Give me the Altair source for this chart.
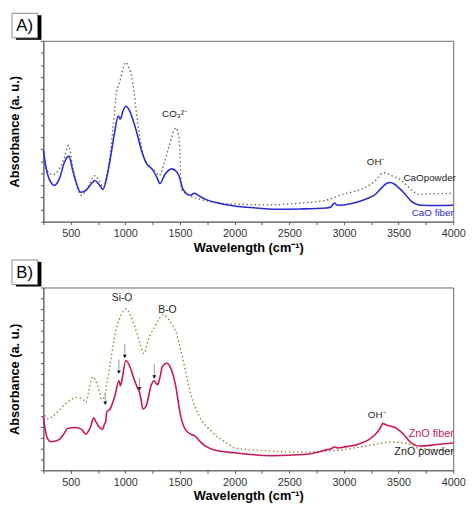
import altair as alt
import pandas as pd

FONT = "Liberation Sans"

# ---------------- Panel A data (CaO) ----------------
cao_fiber_wn = [250, 270, 292, 320, 349, 400, 440, 484, 517, 550, 591, 640, 690, 720, 760, 795, 830, 860, 900, 935, 955, 975, 1004, 1040, 1070, 1100, 1150, 1190, 1250, 1290, 1316, 1360, 1424, 1470, 1490, 1528, 1594, 1633, 1680, 1730, 1848, 1998, 2200, 2361, 2600, 2839, 2880, 2914, 2935, 2960, 3050, 3139, 3220, 3289, 3348, 3390, 3423, 3460, 3498, 3560, 3618, 3660, 3707, 3850, 4000]
cao_fiber_a = [73, 58, 47, 40, 37, 45, 60, 67, 53, 40, 30, 32, 39, 42, 38, 33, 45, 63, 90, 108, 105, 112, 118, 113, 104, 93, 72, 60, 53, 45, 39, 48, 54, 51, 47, 33, 27, 29, 26, 23, 19, 16, 14, 12.7, 13, 14, 15, 19, 17, 16.7, 18, 20.7, 24, 28, 35, 39, 40, 38.5, 35, 28, 20.7, 18, 16.7, 16.5, 16.7]

cao_powder_wn = [250, 277, 340, 400, 440, 480, 520, 560, 600, 660, 720, 760, 800, 830, 860, 890, 920, 950, 975, 1004, 1030, 1055, 1080, 1100, 1130, 1160, 1220, 1270, 1310, 1350, 1400, 1440, 1460, 1490, 1505, 1513, 1580, 1680, 1800, 1975, 2300, 2600, 2839, 2989, 3100, 3198, 3288, 3363, 3400, 3438, 3528, 3633, 3680, 3800, 4000]
cao_powder_a = [63, 53, 48, 55, 65, 78, 55, 35, 27, 36, 47, 42, 35, 48, 67, 100, 133, 143, 155, 163, 158, 150, 132, 113, 88, 70, 57, 52, 47, 58, 77, 92, 96, 87, 55, 33, 27, 23, 20, 18, 17.3, 19, 22, 28, 31, 35, 42, 50, 49, 47, 42, 31, 28, 28.5, 29]

# ---------------- Panel B data (ZnO) ----------------
zno_fiber_wn = [250, 270, 292, 322, 360, 400, 440, 470, 546, 600, 640, 660, 680, 710, 730, 756, 790, 810, 820, 830, 860, 905, 941, 955, 975, 1004, 1040, 1070, 1110, 1130, 1145, 1160, 1190, 1235, 1260, 1295, 1315, 1340, 1378, 1415, 1460, 1504, 1535, 1564, 1600, 1640, 1680, 1730, 1848, 1998, 2330, 2500, 2690, 2840, 2880, 2914, 2950, 2990, 3139, 3220, 3288, 3330, 3355, 3400, 3468, 3528, 3618, 3692, 3850, 4000]
zno_fiber_a = [55, 40, 31.7, 29.3, 30, 32, 38, 43, 44, 42, 37, 40, 44, 54, 50, 45, 42, 48, 50, 60, 63, 77, 92, 87, 97, 113, 107, 97, 85, 80, 72, 63, 66, 87, 92, 88, 95, 107, 110, 105, 87, 57, 45, 40, 37, 35, 30, 25, 20, 18, 15, 15.5, 17, 21, 22, 24, 23, 23.7, 27, 31, 37, 43, 48, 46, 44, 39, 28, 25, 26.5, 28]

zno_powder_wn = [250, 292, 330, 380, 470, 560, 620, 640, 666, 705, 730, 756, 786, 810, 830, 860, 890, 920, 950, 1010, 1040, 1070, 1100, 1130, 1170, 1205, 1265, 1300, 1340, 1385, 1420, 1460, 1500, 1535, 1595, 1670, 1790, 1940, 1998, 2300, 2600, 2900, 3198, 3350, 3423, 3560, 3680, 4000]
zno_powder_a = [60, 53, 55, 60, 70, 75, 72, 70, 82, 96, 92, 83, 73, 76, 88, 108, 130, 147, 157, 166, 161, 153, 143, 132, 120, 133, 147, 154, 160, 157, 151, 143, 127, 110, 80, 57, 40, 27, 23, 20, 18.7, 20, 25, 28, 29, 28, 23, 20]

# arrows in panel B
arrow_wn = [816, 941, 995, 1130, 1265]
arrow_top = [80, 114, 130, 95, 109]
arrow_bot = [69, 101, 117, 84, 96]

# annotations: text, wavenumber, absorbance, align, color, size
ann_a = [
    ("CO\u2083\u00b2\u207b", 1450, 110, "center", "#222222", 10),
    ("OH\u207b", 3290, 61, "center", "#222222", 10),
    ("CaOpowder", 3545, 45, "left", "#222222", 10),
    ("CaO fiber", 4005, 9, "right", "#2b2bd6", 10),
]
ann_b = [
    ("Si-O", 970, 177, "center", "#222222", 10.5),
    ("B-O", 1385, 165, "center", "#222222", 10.5),
    ("OH\u207b", 3300, 57, "center", "#222222", 10),
    ("ZnO fiber", 4005, 37, "right", "#c8175d", 11),
    ("ZnO powder", 4005, 19, "right", "#222222", 11),
]

x_ticks = list(range(250, 4001, 250))


def panel(label, fwn, fa, pwn, pa, fcolor, pcolor, ann, ymax, nint, h, arrows=False):
    fdf = pd.DataFrame({"wn": fwn, "a": fa})
    pdf = pd.DataFrame({"wn": pwn, "a": pa})
    xaxis = alt.Axis(values=x_ticks, labelExpr="datum.value % 500 == 0 ? datum.label : ''",
                     format="d", tickSize=3, labelFontSize=11, labelFont=FONT, labelColor="#333333",
                     labelOverlap=False,
                     title="Wavelength (cm\u207b\u00b9)", titleFontSize=13, titleFont=FONT,
                     titleFontWeight="bold", titlePadding=3, labelPadding=3, grid=False,
                     labelFlush=False, domainColor="#666666", tickColor="#555555")
    yaxis = alt.Axis(values=[round(i * ymax / nint, 3) for i in range(nint + 1)], labels=False, tickSize=3,
                     title="Absorbance (a. u.)", titleFontSize=13, titleFont=FONT,
                     titleFontWeight="bold", titlePadding=19, grid=False,
                     domainColor="#666666", tickColor="#555555")
    xs = alt.Scale(domain=[250, 4000], nice=False, zero=False)
    ys = alt.Scale(domain=[0, ymax], nice=False, zero=False)

    def X(f="wn"):
        return alt.X(f + ":Q", scale=xs, axis=xaxis)

    def Y(f="a"):
        return alt.Y(f + ":Q", scale=ys, axis=yaxis)

    powder = alt.Chart(pdf).mark_line(color=pcolor, strokeWidth=1.6, strokeDash=[0.1, 4],
                                      strokeCap="round", interpolate="monotone").encode(x=X(), y=Y())
    fiber = alt.Chart(fdf).mark_line(color=fcolor, strokeWidth=1.6,
                                     interpolate="monotone").encode(x=X(), y=Y())
    layers = [powder, fiber]

    if arrows:
        adf = pd.DataFrame({"wn": arrow_wn, "top": arrow_top, "bot": arrow_bot})
        layers.append(alt.Chart(adf).mark_rule(color="#9a9a9a", strokeWidth=1).encode(
            x=X(), y=Y("top"), y2="bot:Q"))
        layers.append(alt.Chart(adf).mark_point(shape="triangle-down", filled=True, color="#111111",
                                                size=16, opacity=1).encode(x=X(), y=Y("bot")))

    for txt, wn, a, align, color, size in ann:
        tdf = pd.DataFrame({"wn": [wn], "a": [a], "t": [txt]})
        layers.append(alt.Chart(tdf).mark_text(align=align, baseline="middle", font=FONT,
                                               fontSize=size, color=color).encode(
            x=X(), y=Y(), text="t:N"))

    ldf = pd.DataFrame({"t": [label]})
    layers.append(alt.Chart(ldf).mark_rect(color="black").encode(
        x=alt.value(-28), x2=alt.value(-2), y=alt.value(-26), y2=alt.value(-1)))
    layers.append(alt.Chart(ldf).mark_rect(fill="white", stroke="#8a8a8a", strokeWidth=1).encode(
        x=alt.value(-32), x2=alt.value(-6), y=alt.value(-28), y2=alt.value(-3)))
    layers.append(alt.Chart(ldf).mark_text(font=FONT, fontSize=17, color="black",
                                           align="center", baseline="middle").encode(
        x=alt.value(-19), y=alt.value(-15), text="t:N"))

    return alt.layer(*layers).properties(width=417, height=h)


pa_ = panel("A)", cao_fiber_wn, cao_fiber_a, cao_powder_wn, cao_powder_a,
            "#2b2bd6", "#6e6e5e", ann_a, 185, 15, 184)
pb_ = panel("B)", zno_fiber_wn, zno_fiber_a, zno_powder_wn, zno_powder_a,
            "#c8175d", "#8c8c3c", ann_b, 188, 17, 186, arrows=True)

chart = alt.vconcat(pa_, pb_, spacing=67, bounds="flush").properties(
    padding={"left": 0, "top": 0, "right": 0, "bottom": 0}
).configure_view(stroke="#666666", strokeWidth=1)

chart.save("out.html", embed_options={"renderer": "svg", "actions": False})
